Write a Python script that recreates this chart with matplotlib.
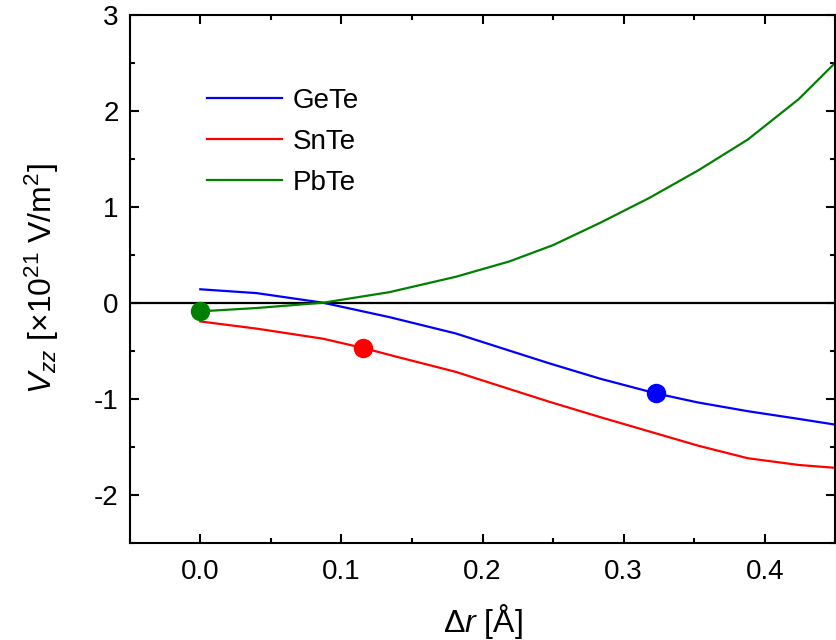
import numpy as np
import matplotlib
matplotlib.use("Agg")
import matplotlib.pyplot as plt
from matplotlib.ticker import MultipleLocator

plt.rcParams['font.family'] = ['Liberation Sans', 'DejaVu Sans']
plt.rcParams['mathtext.fontset'] = 'custom'
plt.rcParams['mathtext.rm'] = 'Liberation Sans'
plt.rcParams['mathtext.it'] = 'Liberation Sans:italic'

# values
x_ge = [0.0, 0.04, 0.087, 0.134, 0.181, 0.215, 0.247, 0.283, 0.323, 0.353, 0.388, 0.424, 0.45]
y_ge = [0.14, 0.10, 0.0, -0.15, -0.32, -0.48, -0.63, -0.79, -0.945, -1.04, -1.13, -1.21, -1.27]

x_sn = [0.0, 0.04, 0.087, 0.115, 0.141, 0.181, 0.215, 0.247, 0.283, 0.318, 0.353, 0.388, 0.424, 0.45]
y_sn = [-0.195, -0.27, -0.375, -0.47, -0.57, -0.72, -0.88, -1.03, -1.19, -1.34, -1.49, -1.62, -1.69, -1.72]

x_pb = [0.0, 0.04, 0.087, 0.134, 0.181, 0.219, 0.25, 0.283, 0.318, 0.353, 0.388, 0.424, 0.45]
y_pb = [-0.09, -0.055, 0.0, 0.11, 0.27, 0.43, 0.60, 0.83, 1.09, 1.38, 1.70, 2.12, 2.50]

# marked equilibrium points
dot_x = {'GeTe': 0.323, 'SnTe': 0.115, 'PbTe': 0.0}
dot_y = {'GeTe': -0.945, 'SnTe': -0.47, 'PbTe': -0.09}

fig = plt.figure(figsize=(8.37, 6.4), dpi=100)
ax = fig.add_axes([0.155, 0.152, 0.843, 0.825])

ax.axhline(0, color='black', lw=1.6, zorder=1)
ax.plot(x_ge, y_ge, color='#0000ff', lw=1.6, label='GeTe')
ax.plot(x_sn, y_sn, color='#ff0000', lw=1.6, label='SnTe')
ax.plot(x_pb, y_pb, color='#008000', lw=1.6, label='PbTe')

for name, c in [('GeTe', '#0000ff'), ('SnTe', '#ff0000'), ('PbTe', '#008000')]:
    ax.plot(dot_x[name], dot_y[name], 'o', color=c, ms=13, zorder=5)

ax.set_xlim(-0.05, 0.45)
ax.set_ylim(-2.5, 3)
ax.xaxis.set_minor_locator(MultipleLocator(0.05))
ax.yaxis.set_minor_locator(MultipleLocator(0.5))
ax.set_xticks([0.0, 0.1, 0.2, 0.3, 0.4])
ax.set_xticklabels(['0.0', '0.1', '0.2', '0.3', '0.4'])
ax.set_yticks([-2, -1, 0, 1, 2, 3])
ax.set_yticklabels(['-2', '-1', '0', '1', '2', '3'])

ax.tick_params(which='both', direction='in', top=True, right=True, width=1.5, labelsize=20)
ax.tick_params(axis='x', pad=12)
ax.tick_params(axis='y', pad=8)
ax.tick_params(which='major', length=6.5)
ax.tick_params(which='minor', length=3.3)
for s in ax.spines.values():
    s.set_linewidth(1.5)

ax.set_xlabel(r'$\Delta r$ [Å]', fontsize=23, labelpad=12)
ax.set_ylabel(r'$V_{zz}$ [$\times$10$^{21}$ V/m$^2$]', fontsize=23, labelpad=24)

ax.legend(loc='upper left', bbox_to_anchor=(0.109, 0.862), frameon=False, fontsize=20,
          borderpad=0, borderaxespad=0,
          handlelength=2.73, handletextpad=0.36, labelspacing=0.55)

fig.savefig('out.png', dpi=100)
